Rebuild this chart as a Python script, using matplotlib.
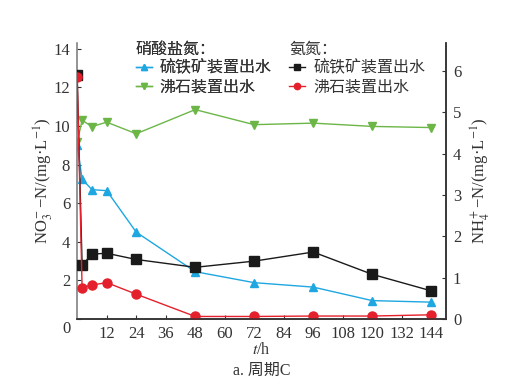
import matplotlib.pyplot as plt

plt.rcParams['font.family'] = ['Liberation Serif', 'Noto Sans CJK SC']
plt.rcParams['mathtext.fontset'] = 'stix'
plt.rcParams['axes.unicode_minus'] = False

# 时间 (h)
t = [0, 2, 6, 12, 24, 48, 72, 96, 120, 144]

# 硝酸盐氮 (左轴)
no3_pyrite = [9.0, 7.25, 6.7, 6.65, 4.5, 2.45, 1.88, 1.65, 0.95, 0.87]
no3_zeolite = [9.15, 10.3, 9.97, 10.2, 9.6, 10.85, 10.07, 10.15, 9.98, 9.92]

# 氨氮 (右轴)
nh4_pyrite = [5.9, 1.3, 1.57, 1.59, 1.44, 1.25, 1.4, 1.62, 1.08, 0.68]
nh4_zeolite = [5.85, 0.76, 0.82, 0.88, 0.6, 0.06, 0.06, 0.07, 0.07, 0.1]

xticks = [12, 24, 36, 48, 60, 72, 84, 96, 108, 120, 132, 144]

blue = '#1ea7e1'
green = '#6cb648'
black = '#1a1a1a'
red = '#e3202b'
txt = '#333333'

fig = plt.figure(figsize=(5.18, 3.88), dpi=100)
ax = fig.add_axes([0.149, 0.178, 0.712, 0.711])
ax2 = ax.twinx()

l1, = ax.plot(t, no3_pyrite, color=blue, marker='^', ms=6, lw=1, label='硫铁矿装置出水')
l2, = ax.plot(t, no3_zeolite, color=green, marker='v', ms=6, lw=1, label='沸石装置出水')
l3, = ax2.plot(t, nh4_pyrite, color=black, marker='s', ms=7, lw=1, label='硫铁矿装置出水')
l4, = ax2.plot(t, nh4_zeolite, color=red, marker='o', ms=6.5, lw=1, label='沸石装置出水')

ax.set_xlim(0, 150)
ax.set_ylim(0, 14.3)
ax2.set_ylim(0, 6.68)
ax.set_xticks(xticks)
ax.set_yticks(range(0, 15, 2))
ax.set_yticklabels([''] + [str(v) for v in range(2, 15, 2)])
ax2.set_yticks(range(0, 7))

for a in (ax, ax2):
    a.spines['top'].set_visible(False)
    for s in a.spines.values():
        s.set_color(txt)
        s.set_linewidth(1.1)
    a.tick_params(direction='in', length=3, labelsize=12, colors=txt, pad=5)
ax.spines['left'].set_color('#777777')
ax2.spines['left'].set_visible(False)

ax.annotate('0', xy=(0, 0), xycoords='data', xytext=(-5, -7), textcoords='offset points',
            ha='right', va='center', fontsize=12, color=txt)

ax.set_ylabel('NO$_3^-$−N/(mg·L$^{-1}$)', fontsize=12, color=txt, labelpad=-1)
ax2.set_ylabel('NH$_4^+$−N/(mg·L$^{-1}$)', fontsize=12, color=txt, labelpad=5)
ax.set_xlabel('$\\it{t}$/h', fontsize=11.5, color=txt, labelpad=0)
fig.text(0.505, 0.033, 'a. 周期C', ha='center', fontsize=11.5, color=txt)

common = dict(loc='upper left', frameon=False, title_fontsize=11.5,
              handlelength=1.0, handletextpad=0.5, labelspacing=0.18, borderpad=0.2,
              alignment='left', markerscale=0.7, prop={'weight': 'light', 'size': 11.5})
leg1 = ax.legend(handles=[l1, l2], title='硝酸盐氮：', bbox_to_anchor=(0.128, 1.045), **common)
leg2 = ax2.legend(handles=[l3, l4], title='氨氮：', bbox_to_anchor=(0.545, 1.045), **common)
for lg in (leg1, leg2):
    lg.get_title().set_fontweight('light')
    lg.get_title().set_color(txt)
    for tx in lg.get_texts():
        tx.set_color(txt)
ax.add_artist(leg1)

fig.savefig('out.png', dpi=100)
